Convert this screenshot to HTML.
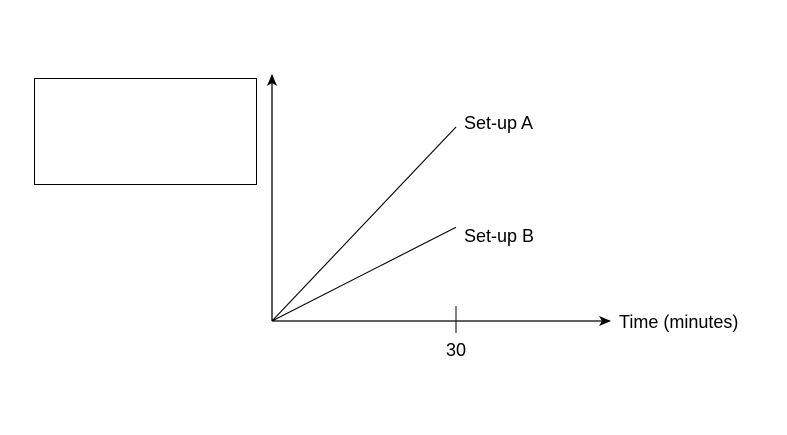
<!DOCTYPE html>
<html>
<head>
<meta charset="utf-8">
<style>
  html,body{margin:0;padding:0;background:#fff;}
  svg{display:block;}
  text{font-family:"Liberation Sans",sans-serif;font-size:18px;fill:#000;}
</style>
</head>
<body>
<svg id="chart" width="787" height="435" viewBox="0 0 787 435">
  <defs>
    <marker id="arrow" markerWidth="12" markerHeight="10" refX="11" refY="5" orient="auto" markerUnits="userSpaceOnUse">
      <path d="M0,0 L12,5 L0,10 L3,5 Z" fill="#000"/>
    </marker>
  </defs>
  <rect x="34.5" y="78.5" width="222" height="106" fill="none" stroke="#000" stroke-width="1"/>
  <line x1="272" y1="321" x2="272" y2="75" stroke="#000" stroke-width="1.3" marker-end="url(#arrow)"/>
  <line x1="272" y1="321" x2="610" y2="321" stroke="#000" stroke-width="1.3" marker-end="url(#arrow)"/>
  <text x="619" y="328">Time (minutes)</text>
  <g id="ticks"></g>
  <g id="series"></g>
</svg>
<script>
const times = [0, 30];
const tickValues = [30];
const tickLabels = ["30"];
const seriesNames = ["Set-up A", "Set-up B"];
const setupA = [0, 30];
const setupB = [0, 14.5];

const x0 = 272, xPerMin = 184 / 30;
const y0 = 321, yPerUnit = 194 / 30;
function xs(t){ return x0 + t * xPerMin; }
function ys(v){ return y0 - v * yPerUnit; }
const labelDy = [2, 15];

const NS = "http://www.w3.org/2000/svg";
const ticksG = document.getElementById('ticks');
tickValues.forEach((t, i) => {
  const l = document.createElementNS(NS, 'line');
  l.setAttribute('x1', xs(t)); l.setAttribute('x2', xs(t));
  l.setAttribute('y1', y0 - 15); l.setAttribute('y2', y0 + 12);
  l.setAttribute('stroke', '#000'); l.setAttribute('stroke-width', '1');
  
  
  ticksG.appendChild(l);
  const tx = document.createElementNS(NS, 'text');
  tx.setAttribute('x', xs(t)); tx.setAttribute('y', y0 + 35);
  tx.setAttribute('text-anchor', 'middle');
  tx.textContent = tickLabels[i];
  
  
  ticksG.appendChild(tx);
});

const seriesG = document.getElementById('series');
[setupA, setupB].forEach((vals, s) => {
  const pts = vals.map((v, i) => xs(times[i]) + ',' + ys(v)).join(' ');
  const pl = document.createElementNS(NS, 'polyline');
  pl.setAttribute('points', pts);
  pl.setAttribute('fill', 'none');
  pl.setAttribute('stroke', '#000');
  pl.setAttribute('stroke-width', '1.1');
  
  
  seriesG.appendChild(pl);
  const last = vals.length - 1;
  const lb = document.createElementNS(NS, 'text');
  lb.setAttribute('x', xs(times[last]) + 8);
  lb.setAttribute('y', ys(vals[last]) + labelDy[s]);
  lb.textContent = seriesNames[s];
  
  
  seriesG.appendChild(lb);
});
</script>
</body>
</html>
